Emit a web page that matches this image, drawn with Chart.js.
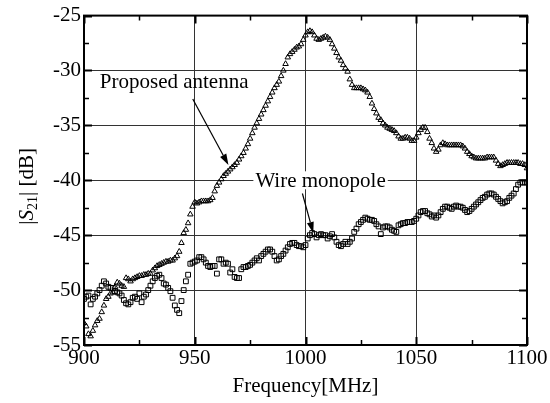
<!DOCTYPE html>
<html>
<head>
<meta charset="utf-8">
<script src="https://cdn.jsdelivr.net/npm/chart.js@4/dist/chart.umd.min.js"></script>
<style>
  html, body { margin: 0; padding: 0; background: #fff; }
  #wrap { position: relative; width: 550px; height: 403px; }
</style>
</head>
<body>
<div id="wrap"><canvas id="s21Chart"></canvas></div>
<script>
// |S21| vs frequency, measured every 1 MHz

var freqs = [
  900, 901, 902, 903, 904, 905, 906, 907, 908, 909,
  910, 911, 912, 913, 914, 915, 916, 917, 918, 919,
  920, 921, 922, 923, 924, 925, 926, 927, 928, 929,
  930, 931, 932, 933, 934, 935, 936, 937, 938, 939,
  940, 941, 942, 943, 944, 945, 946, 947, 948, 949,
  950, 951, 952, 953, 954, 955, 956, 957, 958, 959,
  960, 961, 962, 963, 964, 965, 966, 967, 968, 969,
  970, 971, 972, 973, 974, 975, 976, 977, 978, 979,
  980, 981, 982, 983, 984, 985, 986, 987, 988, 989,
  990, 991, 992, 993, 994, 995, 996, 997, 998, 999,
  1000, 1001, 1002, 1003, 1004, 1005, 1006, 1007, 1008, 1009,
  1010, 1011, 1012, 1013, 1014, 1015, 1016, 1017, 1018, 1019,
  1020, 1021, 1022, 1023, 1024, 1025, 1026, 1027, 1028, 1029,
  1030, 1031, 1032, 1033, 1034, 1035, 1036, 1037, 1038, 1039,
  1040, 1041, 1042, 1043, 1044, 1045, 1046, 1047, 1048, 1049,
  1050, 1051, 1052, 1053, 1054, 1055, 1056, 1057, 1058, 1059,
  1060, 1061, 1062, 1063, 1064, 1065, 1066, 1067, 1068, 1069,
  1070, 1071, 1072, 1073, 1074, 1075, 1076, 1077, 1078, 1079,
  1080, 1081, 1082, 1083, 1084, 1085, 1086, 1087, 1088, 1089,
  1090, 1091, 1092, 1093, 1094, 1095, 1096, 1097, 1098, 1099,
  1100
];

var proposedAntenna = [
  -53.0, -53.3, -54.0, -54.2, -53.7, -53.2, -52.8, -52.6, -52.0, -51.4,
  -50.8, -50.6, -50.3, -50.2, -49.7, -49.3, -49.4, -49.6, -49.7, -48.9,
  -49.0, -49.2, -49.0, -48.9, -48.8, -48.7, -48.7, -48.6, -48.6, -48.5,
  -48.5, -48.2, -48.0, -47.8, -47.7, -47.6, -47.5, -47.4, -47.4, -47.3,
  -47.3, -47.1, -46.9, -46.5, -45.7, -44.8, -44.5, -43.9, -43.1, -42.4,
  -42.0, -42.1, -42.0, -41.9, -41.9, -41.9, -41.9, -41.8, -41.6, -41.0,
  -40.5, -40.2, -39.9, -39.6, -39.4, -39.2, -39.0, -38.8, -38.6, -38.4,
  -38.1, -37.8, -37.5, -37.1, -36.7, -36.2, -35.7, -35.2, -34.8, -34.4,
  -34.0, -33.6, -33.2, -32.8, -32.4, -32.0, -31.6, -31.3, -31.0, -30.5,
  -30.0, -29.4, -28.8, -28.5, -28.3, -28.1, -27.9, -27.8, -27.6, -27.2,
  -26.8, -26.5, -26.4, -26.5, -26.8, -27.1, -27.2, -27.1, -27.0, -26.9,
  -27.0, -27.2, -27.6, -28.0, -28.4, -28.8, -29.1, -29.5, -29.8, -30.1,
  -30.8, -31.3, -31.6, -31.6, -31.6, -31.6, -31.7, -31.8, -32.0, -32.4,
  -33.0, -33.5, -33.9, -34.3, -34.5, -34.8, -35.0, -35.2, -35.3, -35.4,
  -35.5, -35.7, -36.0, -36.2, -36.2, -36.1, -36.1, -36.2, -36.4, -36.4,
  -36.1, -35.7, -35.4, -35.2, -35.2, -35.6, -36.2, -36.6, -37.1, -37.4,
  -37.2, -36.8, -36.6, -36.7, -36.8, -36.8, -36.8, -36.8, -36.8, -36.8,
  -36.8, -36.9, -37.1, -37.4, -37.6, -37.8, -37.9, -38.0, -38.0, -38.0,
  -38.0, -38.0, -37.9, -37.9, -37.9, -37.9, -38.2, -38.5, -38.7, -38.6,
  -38.5, -38.4, -38.4, -38.4, -38.4, -38.4, -38.4, -38.5, -38.5, -38.6,
  -38.9
];

var wireMonopole = [
  -50.8, -50.6, -50.5, -51.3, -50.8, -50.6, -50.3, -50.0, -49.6, -49.2,
  -49.4, -49.7, -49.8, -49.8, -50.1, -50.2, -50.3, -50.5, -50.9, -51.2,
  -51.3, -51.1, -50.7, -50.6, -50.8, -50.3, -51.1, -50.6, -50.4, -50.0,
  -49.6, -49.2, -48.9, -48.7, -48.6, -48.9, -49.4, -49.5, -49.8, -50.1,
  -50.7, -51.4, -51.8, -52.1, -51.0, -50.0, -49.2, -48.6, -47.6, -47.5,
  -47.4, -47.3, -47.0, -47.0, -47.2, -47.5, -47.8, -47.9, -47.8, -47.8,
  -48.5, -47.2, -47.2, -47.6, -47.5, -47.6, -48.4, -48.1, -48.8, -48.9,
  -48.9, -48.1, -47.9, -47.9, -47.8, -47.7, -47.5, -47.3, -47.1, -47.3,
  -46.9, -46.7, -46.5, -46.3, -46.3, -46.5, -46.9, -47.3, -47.2, -46.9,
  -46.7, -46.4, -46.1, -45.8, -45.7, -45.7, -45.9, -46.0, -46.0, -46.1,
  -45.9, -45.3, -45.0, -44.8, -44.9, -45.2, -45.0, -44.9, -45.0, -45.0,
  -45.3, -45.1, -44.9, -45.2, -45.6, -45.9, -46.0, -45.8, -45.6, -45.8,
  -45.6, -45.3, -44.7, -44.4, -44.0, -43.8, -43.6, -43.4, -43.5, -43.6,
  -43.6, -43.7, -44.0, -44.2, -44.9, -44.3, -44.2, -44.2, -44.3, -44.5,
  -44.6, -44.7, -44.1, -44.0, -43.9, -43.9, -43.8, -43.8, -43.8, -43.7,
  -43.5, -43.2, -42.9, -42.8, -42.8, -43.0, -43.1, -43.3, -43.2, -43.4,
  -43.2, -42.9, -42.6, -42.4, -42.4, -42.5, -42.6, -42.4, -42.3, -42.4,
  -42.4, -42.5, -42.7, -42.9, -42.8, -42.6, -42.4, -42.2, -42.0, -41.8,
  -41.6, -41.5, -41.3, -41.2, -41.2, -41.3, -41.5, -41.7, -41.9, -42.1,
  -42.0, -41.9, -41.6, -41.4, -41.2, -40.8, -40.4, -40.2, -40.2, -40.2,
  -40.2
];

// axis ticks
var xTicks = [900, 950, 1000, 1050, 1100];
var xMinor = [925, 975, 1025, 1075];
var yTicks = [-55, -50, -45, -40, -35, -30, -25];
var yMinor = [-52.5, -47.5, -42.5, -37.5, -32.5, -27.5];

var FONT = "'Liberation Serif', 'Times New Roman', serif";

// callouts: text anchor + arrow (in data units)
var callouts = [
  { text: 'Proposed antenna', at: [940.7, -31.0], from: [949.1, -32.6], to: [965.2, -38.6], blank: false },
  { text: 'Wire monopole', at: [1006.8, -40.0], from: [998.6, -41.2], to: [1003.5, -44.8], blank: true }
];

var framePlugin = {
  id: 'frame',
  afterDatasetsDraw: function(chart) {
    var ctx = chart.ctx, a = chart.chartArea, x = chart.scales.x, y = chart.scales.y;
    ctx.save();
    ctx.strokeStyle = '#000';

    // inward ticks on all four sides
    function tick(list, len, w, horiz) {
      ctx.lineWidth = w;
      ctx.beginPath();
      list.forEach(function(v) {
        if (horiz) {
          var px = Math.round(x.getPixelForValue(v)) + 0.5;
          ctx.moveTo(px, a.bottom); ctx.lineTo(px, a.bottom - len);
          ctx.moveTo(px, a.top); ctx.lineTo(px, a.top + len);
        } else {
          var py = Math.round(y.getPixelForValue(v)) + 0.5;
          ctx.moveTo(a.left, py); ctx.lineTo(a.left + len, py);
          ctx.moveTo(a.right, py); ctx.lineTo(a.right - len, py);
        }
      });
      ctx.stroke();
    }
    tick(xTicks, 8, 2, true);
    tick(yTicks, 8, 2, false);
    tick(xMinor, 5, 1.5, true);
    tick(yMinor, 5, 1.5, false);

    ctx.lineWidth = 2;
    ctx.strokeRect(a.left, a.top, a.right - a.left, a.bottom - a.top);

    // callouts
    ctx.font = '21px ' + FONT;
    ctx.fillStyle = '#000';
    ctx.textAlign = 'center';
    ctx.textBaseline = 'middle';
    callouts.forEach(function(c) {
      var tx = x.getPixelForValue(c.at[0]), ty = y.getPixelForValue(c.at[1]);
      if (c.blank) {
        var w = ctx.measureText(c.text).width;
        ctx.fillStyle = '#fff';
        ctx.fillRect(tx - w / 2 - 2, ty - 9, w + 4, 18);
        ctx.fillStyle = '#000';
      }
      ctx.fillText(c.text, tx, ty + 1);

      var x1 = x.getPixelForValue(c.from[0]), y1 = y.getPixelForValue(c.from[1]);
      var x2 = x.getPixelForValue(c.to[0]), y2 = y.getPixelForValue(c.to[1]);
      var ang = Math.atan2(y2 - y1, x2 - x1);
      var hl = 11, hw = 3.5;
      ctx.lineWidth = 1.2;
      ctx.beginPath();
      ctx.moveTo(x1, y1);
      ctx.lineTo(x2 - hl * Math.cos(ang), y2 - hl * Math.sin(ang));
      ctx.stroke();
      ctx.beginPath();
      ctx.moveTo(x2, y2);
      ctx.lineTo(x2 - hl * Math.cos(ang) + hw * Math.sin(ang), y2 - hl * Math.sin(ang) - hw * Math.cos(ang));
      ctx.lineTo(x2 - hl * Math.cos(ang) - hw * Math.sin(ang), y2 - hl * Math.sin(ang) + hw * Math.cos(ang));
      ctx.closePath();
      ctx.fill();
    });

    // y-axis title: |S21| [dB] with italic S and subscript
    var parts = [
      { t: '|', f: '21px ' + FONT, dy: 0 },
      { t: 'S', f: 'italic 21px ' + FONT, dy: 0 },
      { t: '21', f: '14px ' + FONT, dy: 4 },
      { t: '| [dB]', f: '21px ' + FONT, dy: 0 }
    ];
    var total = 0;
    parts.forEach(function(p) { ctx.font = p.f; p.w = ctx.measureText(p.t).width; total += p.w; });
    ctx.translate(33, (a.top + a.bottom) / 2 + 6);
    ctx.rotate(-Math.PI / 2);
    ctx.textAlign = 'left';
    ctx.textBaseline = 'alphabetic';
    var cx = -total / 2;
    parts.forEach(function(p) { ctx.font = p.f; ctx.fillText(p.t, cx, p.dy); cx += p.w; });

    ctx.restore();
  }
};

new Chart(document.getElementById('s21Chart').getContext('2d'), {
  type: 'line',
  data: {
    labels: freqs,
    datasets: [
      { label: 'Proposed antenna', data: proposedAntenna, showLine: false,
        pointStyle: 'triangle', pointRadius: 3.2, pointBorderWidth: 1,
        pointBorderColor: '#000', pointBackgroundColor: 'rgba(0,0,0,0)' },
      { label: 'Wire monopole', data: wireMonopole, showLine: false,
        pointStyle: 'rect', pointRadius: 3.4, pointBorderWidth: 1,
        pointBorderColor: '#000', pointBackgroundColor: 'rgba(0,0,0,0)' }
    ]
  },
  options: {
    responsive: true, maintainAspectRatio: false, animation: false, events: [],
    layout: { padding: { left: 0, right: 23, top: 13, bottom: 0 } },
    plugins: { legend: { display: false }, tooltip: { enabled: false } },
    scales: {
      x: {
        type: 'linear', min: 900, max: 1100,
        afterBuildTicks: function(s) { s.ticks = xTicks.map(function(v) { return { value: v }; }); },
        afterFit: function(s) { s.height = 58; },
        border: { display: false },
        grid: { drawTicks: false, lineWidth: 1,
          color: function(c) { return (c.tick && (c.tick.value === 900 || c.tick.value === 1100)) ? 'rgba(0,0,0,0)' : '#333'; } },
        ticks: { color: '#000', padding: 1, maxRotation: 0, font: { family: FONT, size: 21 },
          callback: function(v) { return String(v); } },
        title: { display: true, text: 'Frequency[MHz]', color: '#000', padding: { top: 0, bottom: 4 },
          font: { family: FONT, size: 21 } }
      },
      y: {
        type: 'linear', min: -55, max: -25,
        afterBuildTicks: function(s) { s.ticks = yTicks.map(function(v) { return { value: v }; }); },
        afterFit: function(s) { s.width = 84; },
        border: { display: false },
        grid: { drawTicks: false, lineWidth: 1,
          color: function(c) { return (c.tick && (c.tick.value === -55 || c.tick.value === -25)) ? 'rgba(0,0,0,0)' : '#333'; } },
        ticks: { color: '#000', padding: 3, font: { family: FONT, size: 21 },
          callback: function(v) { return String(v); } }
      }
    }
  },
  plugins: [framePlugin]
});
</script>
</body>
</html>
